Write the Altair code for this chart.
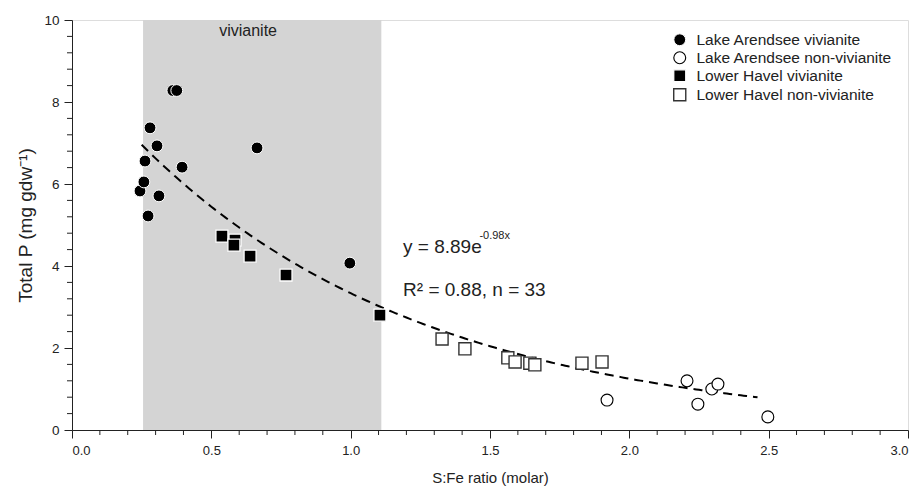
import altair as alt
import pandas as pd

# ---------------- data ----------------
series_names = [
    "Lake Arendsee vivianite",
    "Lake Arendsee non-vivianite",
    "Lower Havel vivianite",
    "Lower Havel non-vivianite",
]

la_viv_x = [0.244, 0.258, 0.262, 0.273, 0.280, 0.305, 0.312, 0.362, 0.376, 0.395, 0.664, 0.997]
la_viv_y = [5.83, 6.05, 6.56, 5.22, 7.37, 6.93, 5.71, 8.28, 8.28, 6.41, 6.88, 4.07]

la_non_x = [1.920, 2.207, 2.246, 2.296, 2.318, 2.497]
la_non_y = [0.73, 1.20, 0.63, 1.00, 1.12, 0.32]

lh_viv_x = [0.538, 0.585, 0.581, 0.639, 0.768, 1.105]
lh_viv_y = [4.73, 4.63, 4.51, 4.24, 3.78, 2.80]

lh_non_x = [1.328, 1.410, 1.564, 1.590, 1.643, 1.661, 1.830, 1.902]
lh_non_y = [2.22, 1.98, 1.76, 1.66, 1.63, 1.59, 1.63, 1.66]

# fitted curve y = a * exp(b x)
fit_a = 8.89
fit_b = -0.98
fit_start = 0.25
fit_end = 2.46

# shaded vivianite range
band_start = 0.255
band_end = 1.11

x_major = [0.0, 0.5, 1.0, 1.5, 2.0, 2.5, 3.0]
x_minor = [0.1, 0.2, 0.3, 0.4, 0.6, 0.7, 0.8, 0.9, 1.1, 1.2, 1.3, 1.4, 1.6, 1.7, 1.8, 1.9,
           2.1, 2.2, 2.3, 2.4, 2.6, 2.7, 2.8, 2.9]
y_major = [0, 2, 4, 6, 8, 10]
y_minor = [0.4, 0.8, 1.2, 1.6, 2.4, 2.8, 3.2, 3.6, 4.4, 4.8, 5.2, 5.6, 6.4, 6.8, 7.2, 7.6,
           8.4, 8.8, 9.2, 9.6]

band_label = "vivianite"
eq_main = "y = 8.89e"
eq_exp = "-0.98x"
eq_r2 = "R\u00b2 = 0.88, n = 33"

x_title = "S:Fe ratio (molar)"
y_title = "Total P (mg gdw\u207b\u00b9)"

# ---------------- build ----------------
FONT = "Liberation Sans"
INK = "#222222"

rows = []
for name, xs_, ys_ in [
    (series_names[0], la_viv_x, la_viv_y),
    (series_names[1], la_non_x, la_non_y),
    (series_names[2], lh_viv_x, lh_viv_y),
    (series_names[3], lh_non_x, lh_non_y),
]:
    for a, b in zip(xs_, ys_):
        rows.append({"x": a, "y": b, "series": name})
pts_df = pd.DataFrame(rows)

xs = alt.Scale(domain=[0, 3], nice=False, zero=False)
ys = alt.Scale(domain=[0, 10], nice=False, zero=False)

x_axis = alt.Axis(
    values=x_major, format=".1f", grid=False, tickSize=8, tickColor=INK, domainColor=INK,
    labelFontSize=13, labelColor=INK, labelPadding=6, labelFont=FONT,
    title=x_title, titleFontSize=15, titleFontWeight="normal", titleColor=INK,
    titleFont=FONT, titlePadding=13,
)
y_axis = alt.Axis(
    values=y_major, format="d", grid=False, tickSize=8, tickColor=INK, domainColor=INK,
    labelFontSize=13.5, labelColor=INK, labelPadding=5, labelFont=FONT,
    title=y_title, titleFontSize=19, titleFontWeight="normal", titleColor=INK,
    titleFont=FONT, titlePadding=8,
)


def X(field=None, datum=None):
    if datum is not None:
        return alt.X(datum=datum, type="quantitative", scale=xs, axis=x_axis, title=x_title)
    return alt.X(field, type="quantitative", scale=xs, axis=x_axis, title=x_title)


def Y(field=None, datum=None):
    if datum is not None:
        return alt.Y(datum=datum, type="quantitative", scale=ys, axis=y_axis, title=y_title)
    return alt.Y(field, type="quantitative", scale=ys, axis=y_axis, title=y_title)


band = alt.Chart(pd.DataFrame({"x0": [band_start], "x1": [band_end], "y0": [0], "y1": [10]})).mark_rect(
    color="#d4d4d4"
).encode(x=X("x0"), x2="x1:Q", y=Y("y0"), y2="y1:Q")

xminor = alt.Chart(pd.DataFrame({"v": x_minor})).mark_rule(color=INK, strokeWidth=1).encode(
    x=X("v"), y=alt.value(410), y2=alt.value(415),
)
yminor = alt.Chart(pd.DataFrame({"v": y_minor})).mark_rule(color=INK, strokeWidth=1).encode(
    y=Y("v"), x=alt.value(-5), x2=alt.value(0),
)

viv_text = alt.Chart(pd.DataFrame({"t": [band_label]})).mark_text(
    fontSize=16, font=FONT, color=INK, align="center", baseline="middle"
).encode(x=X(datum=0.632), y=Y(datum=9.73), text="t:N")

fit = alt.Chart(alt.sequence(fit_start, fit_end + 0.005, 0.01, as_="s")).transform_calculate(
    f=f"{fit_a} * exp({fit_b} * datum.s)"
).mark_line(color="black", strokeDash=[9, 6], strokeWidth=2).encode(x=X("s"), y=Y("f"))

eq1 = alt.Chart(pd.DataFrame({"t": [eq_main]})).mark_text(
    fontSize=19, font=FONT, color=INK, align="left", baseline="middle"
).encode(x=X(datum=1.188), y=Y(datum=4.46), text="t:N")
eq2 = alt.Chart(pd.DataFrame({"t": [eq_exp]})).mark_text(
    fontSize=11, font=FONT, color=INK, align="left", baseline="middle"
).encode(x=X(datum=1.462), y=Y(datum=4.72), text="t:N")
eq3 = alt.Chart(pd.DataFrame({"t": [eq_r2]})).mark_text(
    fontSize=19, font=FONT, color=INK, align="left", baseline="middle"
).encode(x=X(datum=1.188), y=Y(datum=3.41), text="t:N")

leg = alt.Legend(
    title=None, orient="none", legendX=600, legendY=12, labelFontSize=15.5, labelFont=FONT,
    labelColor=INK, rowPadding=0, labelOffset=9, padding=0, labelLimit=400,
)
points = alt.Chart(pts_df).mark_point(filled=True, opacity=1).encode(
    x=X("x"),
    y=Y("y"),
    shape=alt.Shape("series:N", scale=alt.Scale(domain=series_names, range=["circle", "circle", "square", "square"]), legend=leg),
    fill=alt.Fill("series:N", scale=alt.Scale(domain=series_names, range=["black", "white", "black", "white"]), legend=leg),
    stroke=alt.Stroke("series:N", scale=alt.Scale(domain=series_names, range=["white", "black", "white", "#333333"]), legend=leg),
    size=alt.Size("series:N", scale=alt.Scale(domain=series_names, range=[140, 145, 120, 130]), legend=leg),
    strokeWidth=alt.StrokeWidth("series:N", scale=alt.Scale(domain=series_names, range=[1.0, 1.4, 1.0, 1.4]), legend=leg),
)

chart = alt.layer(band, xminor, yminor, viv_text, fit, eq1, eq2, eq3, points).properties(
    width=836,
    height=410,
    padding={"left": 64, "top": 12, "right": 1, "bottom": 58},
    autosize=alt.AutoSizeParams(type="none"),
).configure_view(stroke="#333333", strokeWidth=1.2).configure(font=FONT)

chart.save("out.html", embed_options={"renderer": "svg", "actions": False})
